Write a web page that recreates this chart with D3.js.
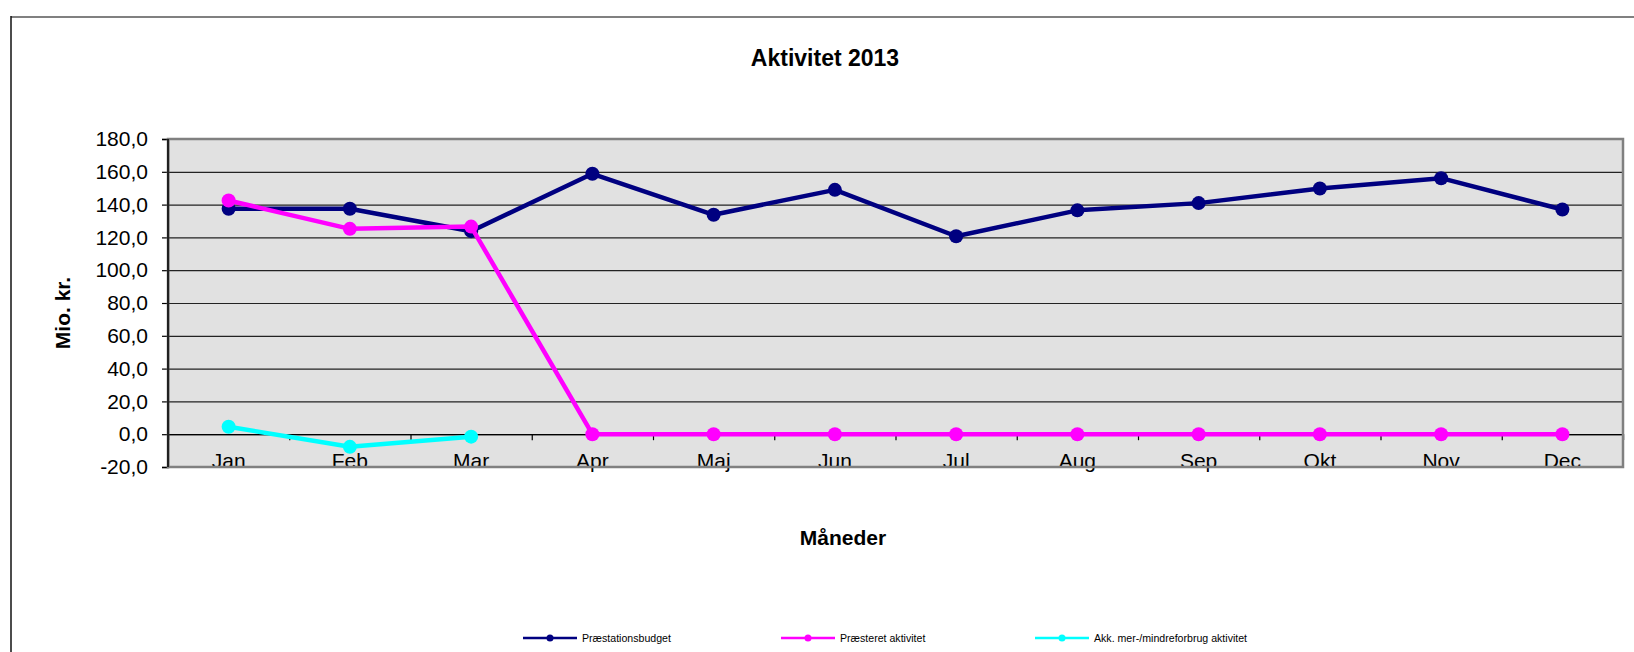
<!DOCTYPE html>
<html>
<head>
<meta charset="utf-8">
<script src="https://cdn.jsdelivr.net/npm/d3@7"></script>
<style>
  body { margin: 0; background: #fff; }
  text { font-family: "Liberation Sans", Arial, sans-serif; }
</style>
</head>
<body>
<svg id="chart" width="1634" height="652"></svg>
<script>
const months = ["Jan", "Feb", "Mar", "Apr", "Maj", "Jun", "Jul", "Aug", "Sep", "Okt", "Nov", "Dec"];
const budget = [137.5, 137.5, 123.8, 158.8, 133.8, 149.0, 120.7, 136.5, 140.9, 149.8, 156.1, 137.0];
const presteret = [142.5, 125.2, 126.6, 0, 0, 0, 0, 0, 0, 0, 0, 0];
const akk = [4.5, -7.7, -1.5];
const yTicks = [-20, 0, 20, 40, 60, 80, 100, 120, 140, 160, 180];

const series = [
  { name: "Præstationsbudget", values: budget, color: "#000080" },
  { name: "Præsteret aktivitet", values: presteret, color: "#ff00ff" },
  { name: "Akk. mer-/mindreforbrug aktivitet", values: akk, color: "#00ffff" }
];

(function () {
  const svg = d3.select("#chart");
  const plot = { left: 168, right: 1623, top: 139, bottom: 467 };

  const locale = d3.formatLocale({ decimal: ",", thousands: ".", grouping: [3], currency: ["", " kr."], minus: "-" });
  const fmt = locale.format(".1f");

  const x = d3.scaleBand().domain(months).range([plot.left, plot.right]);
  const xEdge = d3.scaleLinear().domain([0, months.length]).range([plot.left, plot.right]);
  const y = d3.scaleLinear().domain([-20, 180]).range([plot.bottom, plot.top]);
  const cx = (d, i) => x(months[i]) + x.bandwidth() / 2;

  // outer chart frame (only top and left are inside the picture)
  svg.append("line").attr("x1", 11).attr("x2", 1634).attr("y1", 17).attr("y2", 17)
    .attr("stroke", "#808080").attr("stroke-width", 2);
  svg.append("line").attr("x1", 11).attr("x2", 11).attr("y1", 16).attr("y2", 652)
    .attr("stroke", "#111").attr("stroke-width", 1.5);

  // plot area
  svg.append("rect")
    .attr("x", plot.left).attr("y", plot.top)
    .attr("width", plot.right - plot.left).attr("height", plot.bottom - plot.top)
    .attr("fill", "#e1e1e1");

  // gridlines
  svg.append("g")
    .attr("transform", `translate(${plot.left},0)`)
    .call(d3.axisLeft(y).tickValues(yTicks).tickSize(-(plot.right - plot.left)).tickFormat(""))
    .call(g => g.select(".domain").remove())
    .selectAll("line").attr("stroke", "#222").attr("stroke-width", 1.2);

  // y axis
  const yAxis = svg.append("g")
    .attr("transform", `translate(${plot.left},0)`)
    .call(d3.axisLeft(y).tickValues(yTicks).tickSize(6).tickPadding(14).tickFormat(fmt));
  yAxis.select(".domain").attr("stroke", "#000").attr("stroke-width", 1.5);
  yAxis.selectAll(".tick line").attr("stroke", "#000").attr("stroke-width", 1.2);
  yAxis.selectAll(".tick text").attr("font-size", 21).attr("fill", "#000")
    .attr("font-family", "'Liberation Sans', Arial, sans-serif");

  // x axis on the zero line, ticks between categories
  const xTicks = svg.append("g")
    .attr("transform", `translate(0,${y(0)})`)
    .call(d3.axisBottom(xEdge).tickValues(d3.range(0, months.length + 1)).tickSize(6).tickFormat(""));
  xTicks.select(".domain").attr("stroke", "#000").attr("stroke-width", 1.2);
  xTicks.selectAll(".tick line").attr("stroke", "#000").attr("stroke-width", 1.2);

  const xLabels = svg.append("g")
    .attr("transform", `translate(0,${y(0)})`)
    .call(d3.axisBottom(x).tickSize(0).tickPadding(19));
  xLabels.select(".domain").remove();
  xLabels.selectAll(".tick text").attr("font-size", 21).attr("fill", "#000")
    .attr("font-family", "'Liberation Sans', Arial, sans-serif");

  // plot border
  svg.append("rect")
    .attr("x", plot.left).attr("y", plot.top)
    .attr("width", plot.right - plot.left).attr("height", plot.bottom - plot.top)
    .attr("fill", "none").attr("stroke", "#808080").attr("stroke-width", 2.5);
  svg.append("line")
    .attr("x1", plot.left).attr("x2", plot.left).attr("y1", plot.top).attr("y2", plot.bottom)
    .attr("stroke", "#000").attr("stroke-width", 1.5);

  // series
  const line = d3.line().x(cx).y(d => y(d));
  series.forEach(s => {
    const g = svg.append("g");
    g.append("path").datum(s.values)
      .attr("d", line)
      .attr("fill", "none")
      .attr("stroke", s.color)
      .attr("stroke-width", 4.5)
      .attr("stroke-linejoin", "round");
    g.selectAll("circle").data(s.values).enter().append("circle")
      .attr("cx", cx)
      .attr("cy", d => y(d))
      .attr("r", 7)
      .attr("fill", s.color);
  });

  // titles
  svg.append("text").attr("x", 825).attr("y", 66).attr("text-anchor", "middle")
    .attr("font-size", 23).attr("font-weight", "bold").text("Aktivitet 2013");
  svg.append("text").attr("x", 843).attr("y", 545).attr("text-anchor", "middle")
    .attr("font-size", 21).attr("font-weight", "bold").text("Måneder");
  svg.append("text").attr("transform", "translate(70,313) rotate(-90)").attr("text-anchor", "middle")
    .attr("font-size", 21).attr("font-weight", "bold").text("Mio. kr.");

  // legend
  const legendX = [523, 781, 1035];
  const legend = svg.append("g").selectAll("g").data(series).enter().append("g")
    .attr("transform", (d, i) => `translate(${legendX[i]},638)`);
  legend.append("line").attr("x1", 0).attr("x2", 54).attr("y1", 0).attr("y2", 0)
    .attr("stroke", d => d.color).attr("stroke-width", 2.5);
  legend.append("circle").attr("cx", 27).attr("cy", 0).attr("r", 3.5).attr("fill", d => d.color);
  legend.append("text").attr("x", 59).attr("y", 3.8)
    .attr("font-size", 10.6).attr("fill", "#000").text(d => d.name);
})();
</script>
</body>
</html>
